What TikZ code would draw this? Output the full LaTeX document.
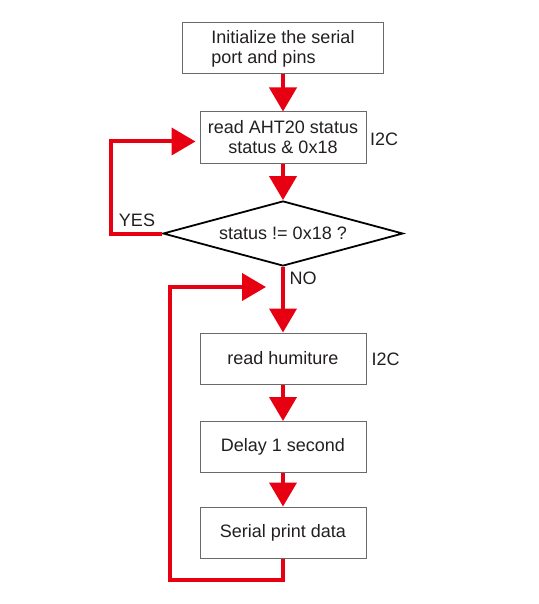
\documentclass[tikz,border=0pt]{standalone}
\usepackage{fontspec}
\setmainfont{Liberation Sans}
\usetikzlibrary{arrows.meta,shapes.geometric}
\definecolor{flowred}{HTML}{E60012}
\definecolor{txt}{HTML}{231F20}
\definecolor{frame}{HTML}{6A6A6A}
\begin{document}
\begin{tikzpicture}[x=1pt,y=-1pt,
    every node/.style={text=txt,font=\fontsize{18}{20}\selectfont},
    box/.style={draw=frame,line width=1pt,minimum height=51pt,inner sep=0pt},
    decision/.style={diamond,draw=black,line width=1.8pt,minimum width=240pt,
      minimum height=65pt,aspect=3.7,inner sep=0pt},
    flow/.style={draw=flowred,line width=4pt,
      -{Triangle[width=27pt,length=24pt]}}]
    \useasboundingbox (0,0) rectangle (538,604);

    % The boxes down the middle
    \node [box,minimum width=201pt,align=left] (init) at (283,48.5)
      {Initialize the serial\\port and pins};
    \node [box,minimum width=166pt,align=center] (status) at (283,137.5)
      {read AHT20 status\\status \& 0x18};
    \node [decision] (check) at (283,233.5) {status != 0x18 ?};
    \foreach \name/\y/\lab in {
      humi/358.5/read humiture,
      delay/447/Delay 1 second,
      print/532.5/Serial print data} {
      \node [box,minimum width=166pt] (\name) at (283,\y) {\lab};
    }

    % Side labels
    \node (busa) at (384,139.5) {I2C};
    \node (busb) at (385.5,359) {I2C};
    \node (yes) at (137,220) {YES};
    \node (no) at (303,278) {NO};

    % Straight arrows
    \draw [flow] (init) -- (status);
    \draw [flow] (status) -- (check);
    \draw [flow] (check.south) -- (humi.north);
    \draw [flow] (humi) -- (delay);
    \draw [flow] (delay) -- (print);

    % The two loops
    \draw [flow] (check.west) -- ++(-51,0) |- ([yshift=-4pt,xshift=-4pt]status.west);
    \coordinate (loopin) at (266,287);
    \draw [flow] (print.south) -- ++(0,21) -| ([xshift=-96pt]loopin) -- (loopin);
\end{tikzpicture}
\end{document}
